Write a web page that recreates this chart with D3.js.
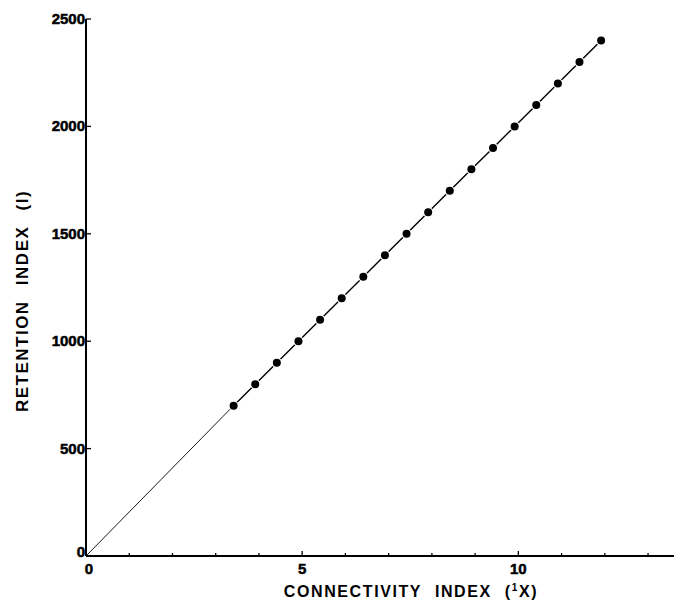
<!DOCTYPE html>
<html>
<head>
<meta charset="utf-8">
<script src="https://cdn.jsdelivr.net/npm/d3@7"></script>
<style>
  body { margin: 0; background: #fff; }
  svg { display: block; }
  .tick-label { font-family: "Liberation Sans", Arial, sans-serif; font-weight: bold; font-size: 15px; fill: #000; stroke: #000; stroke-width: 0.5px; }
  .axis-title { font-family: "Liberation Sans", Arial, sans-serif; font-weight: bold; font-size: 16px; letter-spacing: 1.6px; word-spacing: 7px; fill: #000; }
  .y-title { font-size: 17px; letter-spacing: 1.5px; word-spacing: 9px; }
</style>
</head>
<body>
<svg id="chart" width="674" height="603"></svg>
<script>
// connectivity index (1X) of n-alkanes C7..C24 and their retention index
var connectivity = [3.414, 3.914, 4.414, 4.914, 5.414, 5.914, 6.414, 6.914, 7.414,
                    7.914, 8.414, 8.914, 9.414, 9.914, 10.414, 10.914, 11.414, 11.914];
var retention = [700, 800, 900, 1000, 1100, 1200, 1300, 1400, 1500,
                 1600, 1700, 1800, 1900, 2000, 2100, 2200, 2300, 2400];
var xTicks = [1, 2, 3, 4, 5, 6, 7, 8, 9, 10, 11, 12, 13];
var xLabels = [0, 5, 10];
var yTicks = [0, 500, 1000, 1500, 2000, 2500];

var svg = d3.select("#chart");

var x = d3.scaleLinear().domain([0, 13.6]).range([86, 674]);
var y = d3.scaleLinear().domain([0, 2500]).range([556, 19]);

var pts = connectivity.map((d, i) => ({x: d, y: retention[i]}));

//axes lines
svg.append("line")
    .attr("x1", x(0)).attr("x2", x(0))
    .attr("y1", y(2500)).attr("y2", y(0))
    .attr("stroke", "#000").attr("stroke-width", 2);
svg.append("line")
    .attr("x1", x(0)).attr("x2", 674)
    .attr("y1", y(0)).attr("y2", y(0))
    .attr("stroke", "#000").attr("stroke-width", 2);

//x ticks, pointing up into the plot
svg.selectAll("line.xt").data(xTicks).enter().append("line")
    .attr("class", "xt")
    .attr("x1", d => x(d)).attr("x2", d => x(d))
    .attr("y1", y(0)).attr("y2", d => y(0) - (d % 5 == 0 ? 5 : 3))
    .attr("stroke", "#000").attr("stroke-width", 1.3);

svg.selectAll("text.xl").data(xLabels).enter().append("text")
    .attr("class", "tick-label")
    .attr("x", d => x(d) + (d == 0 ? 3 : 0))
    .attr("y", y(0) + 18)
    .attr("text-anchor", "middle")
    .text(d => d);

//y ticks, pointing right
svg.selectAll("line.yt").data(yTicks).enter().append("line")
    .attr("class", "yt")
    .attr("x1", x(0)).attr("x2", x(0) + 5)
    .attr("y1", d => y(d)).attr("y2", d => y(d))
    .attr("stroke", "#000").attr("stroke-width", 1.3);

svg.selectAll("text.yl").data(yTicks).enter().append("text")
    .attr("class", "tick-label")
    .attr("x", x(0) - 1)
    .attr("y", d => y(d) + 5 - (d == 0 ? 4 : 0))
    .attr("text-anchor", "end")
    .text(d => d);

//regression line through the origin
var line = d3.line().x(d => x(d.x)).y(d => y(d.y));
svg.append("path")
    .datum([{x: 0, y: 0}, pts[0]])
    .attr("d", line)
    .attr("fill", "none").attr("stroke", "#000").attr("stroke-width", 0.9);
svg.append("path")
    .datum(pts)
    .attr("d", line)
    .attr("fill", "none").attr("stroke", "#000").attr("stroke-width", 1.4);

svg.selectAll("circle").data(pts).enter().append("circle")
    .attr("cx", d => x(d.x)).attr("cy", d => y(d.y))
    .attr("r", 4)
    .attr("fill", "#000")
    .attr("stroke", "#fff").attr("stroke-width", 2.5)
    .attr("paint-order", "stroke");

//axis titles
svg.append("text")
    .attr("class", "axis-title")
    .attr("x", 411).attr("y", 597)
    .attr("text-anchor", "middle")
    .html('CONNECTIVITY INDEX (<tspan font-size="10px" dy="-6">1</tspan><tspan dy="6">X)</tspan>');

svg.append("text")
    .attr("class", "axis-title y-title")
    .attr("transform", "translate(28,301) rotate(-90)")
    .attr("text-anchor", "middle")
    .text("RETENTION INDEX (I)");
</script>
</body>
</html>
